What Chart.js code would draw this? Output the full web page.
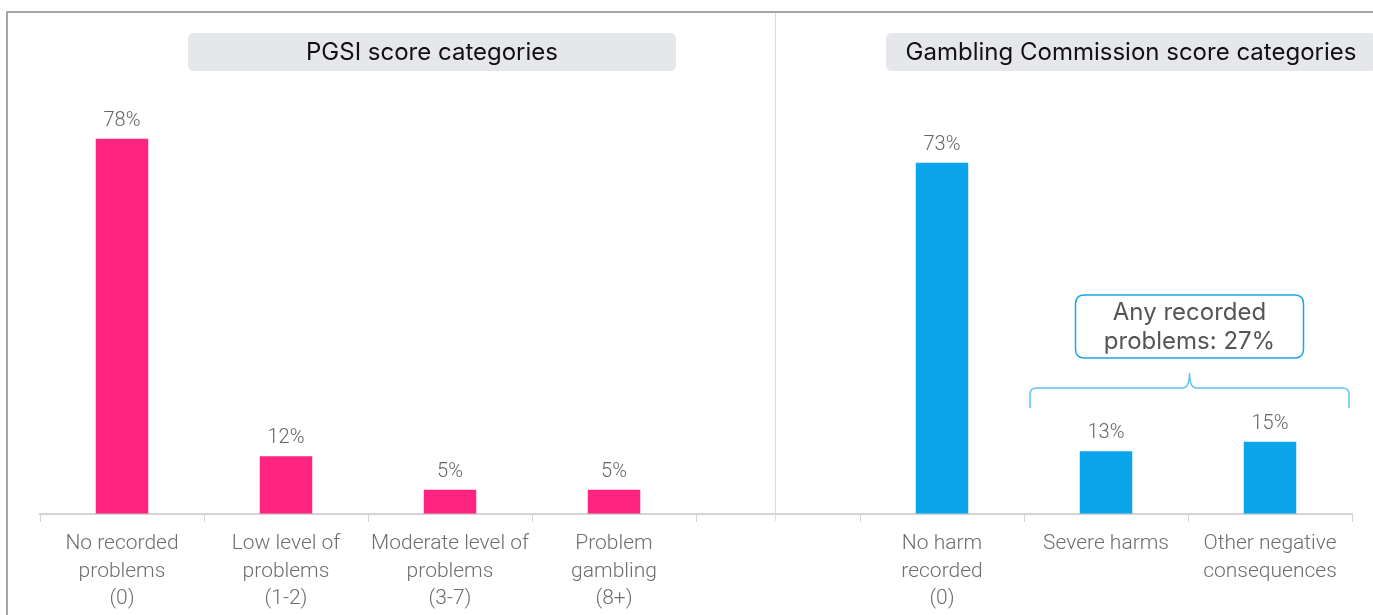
<!DOCTYPE html>
<html>
<head>
<meta charset="utf-8">
<script src="https://cdn.jsdelivr.net/npm/chart.js@4"></script>
<style>
  html, body { margin: 0; padding: 0; background: #fff; }
  #wrap { position: relative; width: 1373px; height: 615px; }
</style>
</head>
<body>
<div id="wrap"><canvas id="scoreChart"></canvas></div>
<script>
// categories: four PGSI groups, one spacer slot, three Gambling Commission groups
const categories = [
    ["No recorded", "problems", "(0)"],
    ["Low level of", "problems", "(1-2)"],
    ["Moderate level of", "problems", "(3-7)"],
    ["Problem", "gambling", "(8+)"],
    "",
    ["No harm", "recorded", "(0)"],
    "Severe harms",
    ["Other negative", "consequences"]
];
const shares = [78, 12, 5, 5, null, 73, 13, 15];
const barColors = ["#ff2480", "#ff2480", "#ff2480", "#ff2480", "#ffffff", "#0aa5eb", "#0aa5eb", "#0aa5eb"];
const panelTitles = ["PGSI score categories", "Gambling Commission score categories"];
const calloutLines = ["Any recorded", "problems: 27%"];

function roundRect(ctx, x, y, w, h, r) {
    ctx.beginPath();
    ctx.moveTo(x + r, y);
    ctx.lineTo(x + w - r, y);
    ctx.quadraticCurveTo(x + w, y, x + w, y + r);
    ctx.lineTo(x + w, y + h - r);
    ctx.quadraticCurveTo(x + w, y + h, x + w - r, y + h);
    ctx.lineTo(x + r, y + h);
    ctx.quadraticCurveTo(x, y + h, x, y + h - r);
    ctx.lineTo(x, y + r);
    ctx.quadraticCurveTo(x, y, x + r, y);
    ctx.closePath();
}

// frame, panel divider and the two panel headings
const panelDecor = {
    id: "panelDecor",
    beforeDraw(chart) {
        const ctx = chart.ctx;
        const x = chart.scales.x;
        ctx.save();
        ctx.strokeStyle = "#a6a6a6";
        ctx.lineWidth = 2;
        ctx.beginPath();
        ctx.moveTo(7, 615);
        ctx.lineTo(7, 12);
        ctx.lineTo(1373, 12);
        ctx.stroke();

        const divX = Math.round(x.getPixelForValue(4)) - 2.5;
        ctx.strokeStyle = "#dcdcdc";
        ctx.lineWidth = 1;
        ctx.beginPath();
        ctx.moveTo(divX, 13);
        ctx.lineTo(divX, 521);
        ctx.stroke();

        const boxes = [[188, 488], [886, 490]];
        ctx.font = "400 24px Inter";
        ctx.textAlign = "center";
        ctx.textBaseline = "middle";
        panelTitles.forEach((t, i) => {
            const [bx, bw] = boxes[i];
            ctx.fillStyle = "#e6e7eb";
            roundRect(ctx, bx, 33, bw, 38, 6);
            ctx.fill();
            ctx.fillStyle = "#111";
            ctx.fillText(t, bx + bw / 2, 53);
        });
        ctx.restore();
    }
};

// percentage labels above the bars plus the bracket callout
const barNotes = {
    id: "barNotes",
    afterDatasetsDraw(chart) {
        const ctx = chart.ctx;
        const meta = chart.getDatasetMeta(0);
        ctx.save();
        ctx.font = "300 20px Roboto";
        ctx.fillStyle = "#666";
        ctx.textAlign = "center";
        ctx.textBaseline = "middle";
        meta.data.forEach((bar, i) => {
            if (shares[i] == null) return;
            ctx.fillText(shares[i] + "%", bar.x, bar.y - 18);
        });

        const x = chart.scales.x;
        const half = (x.getPixelForValue(1) - x.getPixelForValue(0)) / 2;
        const left = x.getPixelForValue(6) - half + 6;
        const right = x.getPixelForValue(7) + half - 3;
        const mid = (left + right) / 2;
        const yb = 388;
        ctx.strokeStyle = "#5cc4ee";
        ctx.lineWidth = 1.5;
        ctx.beginPath();
        ctx.moveTo(left, 408);
        ctx.lineTo(left, yb + 6);
        ctx.quadraticCurveTo(left, yb, left + 7, yb);
        ctx.lineTo(mid - 7, yb);
        ctx.quadraticCurveTo(mid, yb, mid, yb - 15);
        ctx.quadraticCurveTo(mid, yb, mid + 7, yb);
        ctx.lineTo(right - 7, yb);
        ctx.quadraticCurveTo(right, yb, right, yb + 6);
        ctx.lineTo(right, 408);
        ctx.stroke();

        ctx.strokeStyle = "#1aa7e6";
        ctx.lineWidth = 1.5;
        ctx.fillStyle = "#fff";
        roundRect(ctx, mid - 114, 295, 228, 63, 9);
        ctx.fill();
        ctx.stroke();
        ctx.fillStyle = "#555";
        ctx.font = "400 24px Inter";
        ctx.fillText(calloutLines[0], mid, 313);
        ctx.fillText(calloutLines[1], mid, 342);
        ctx.restore();
    }
};

new Chart(document.getElementById("scoreChart"), {
    type: "bar",
    data: {
        labels: categories,
        datasets: [{
            data: shares,
            backgroundColor: barColors,
            barPercentage: 0.64,
            categoryPercentage: 0.5
        }]
    },
    options: {
        responsive: true,
        maintainAspectRatio: false,
        animation: false,
        layout: { padding: { top: 33, left: 40, right: 21, bottom: -6 } },
        plugins: { legend: { display: false }, tooltip: { enabled: false } },
        scales: {
            x: {
                grid: { drawOnChartArea: false, tickLength: 8, color: "#d4d4d4", offset: true },
                border: { color: "#d4d4d4", width: 2 },
                ticks: {
                    color: "#6e6e6e",
                    font: { family: "Roboto", size: 21, weight: "300", lineHeight: 1.32 },
                    padding: 8,
                    maxRotation: 0,
                    autoSkip: false
                }
            },
            y: { display: false, min: 0, max: 100 }
        }
    },
    plugins: [panelDecor, barNotes]
});
</script>
</body>
</html>
